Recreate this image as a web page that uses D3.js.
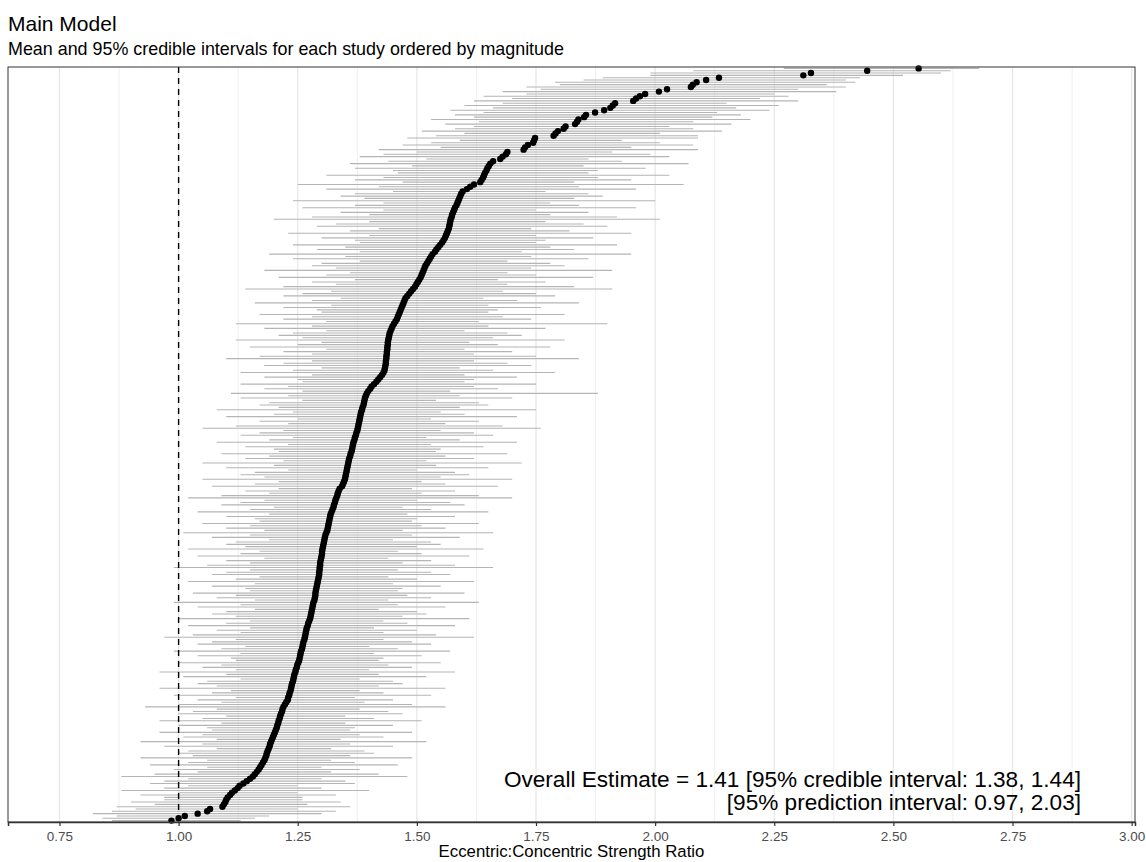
<!DOCTYPE html>
<html>
<head>
<meta charset="utf-8">
<title>Main Model</title>
<style>
  body { margin: 0; background: #fff; }
  svg { display: block; font-family: "Liberation Sans", Arial, sans-serif; }
</style>
</head>
<body>
<svg id="chart" width="1146" height="862"></svg>
<script src="https://cdn.jsdelivr.net/npm/d3@7"></script>
<script>
// study means, ordered from smallest (bottom) to largest (top)
var means = [0.985,1.000,1.013,1.040,1.060,1.066,1.092,1.095,1.098,1.100,
  1.103,1.108,1.112,1.118,1.124,1.128,1.136,1.143,1.150,1.156,
  1.160,1.164,1.168,1.171,1.174,1.177,1.180,1.182,1.184,1.185,
  1.187,1.189,1.191,1.192,1.194,1.196,1.198,1.200,1.202,1.204,
  1.206,1.207,1.209,1.210,1.212,1.213,1.215,1.217,1.218,1.220,
  1.223,1.226,1.229,1.230,1.232,1.233,1.235,1.236,1.237,1.238,
  1.240,1.241,1.242,1.243,1.245,1.246,1.248,1.249,1.251,1.253,
  1.254,1.255,1.256,1.257,1.259,1.260,1.261,1.262,1.264,1.265,
  1.266,1.267,1.268,1.269,1.271,1.272,1.274,1.276,1.277,1.278,
  1.279,1.280,1.281,1.282,1.283,1.285,1.286,1.287,1.287,1.288,
  1.289,1.290,1.291,1.292,1.293,1.294,1.295,1.295,1.296,1.296,
  1.297,1.297,1.298,1.299,1.300,1.301,1.301,1.302,1.303,1.304,
  1.305,1.306,1.307,1.308,1.310,1.312,1.313,1.314,1.315,1.316,
  1.317,1.318,1.319,1.321,1.323,1.325,1.326,1.328,1.329,1.331,
  1.333,1.334,1.336,1.338,1.343,1.345,1.347,1.349,1.350,1.351,
  1.352,1.353,1.354,1.355,1.356,1.357,1.358,1.360,1.361,1.363,
  1.364,1.365,1.366,1.367,1.369,1.370,1.372,1.373,1.375,1.376,
  1.377,1.378,1.379,1.380,1.381,1.382,1.383,1.385,1.386,1.388,
  1.389,1.390,1.391,1.393,1.395,1.398,1.402,1.405,1.410,1.415,
  1.419,1.423,1.427,1.430,1.432,1.433,1.434,1.435,1.435,1.436,
  1.436,1.437,1.437,1.438,1.438,1.439,1.439,1.440,1.441,1.442,
  1.443,1.445,1.447,1.449,1.452,1.455,1.458,1.460,1.462,1.464,
  1.466,1.468,1.470,1.472,1.474,1.476,1.480,1.484,1.488,1.492,
  1.496,1.499,1.502,1.505,1.508,1.510,1.512,1.514,1.516,1.518,
  1.521,1.524,1.527,1.530,1.533,1.538,1.541,1.545,1.549,1.553,
  1.556,1.559,1.561,1.563,1.565,1.567,1.568,1.569,1.570,1.571,
  1.573,1.574,1.576,1.578,1.580,1.583,1.585,1.587,1.589,1.591,
  1.593,1.596,1.605,1.612,1.620,1.633,1.636,1.639,1.641,1.643,
  1.646,1.648,1.651,1.654,1.660,1.675,1.680,1.687,1.690,1.724,
  1.727,1.733,1.744,1.746,1.748,1.787,1.791,1.796,1.808,1.812,
  1.832,1.836,1.839,1.851,1.855,1.874,1.893,1.906,1.911,1.916,
  1.954,1.960,1.968,1.979,2.008,2.025,2.075,2.079,2.087,2.107,
  2.134,2.311,2.327,2.445,2.553];

// lower 95% credible limits
var lower = [0.86,0.84,0.87,0.82,0.86,0.91,0.87,0.95,0.90,0.97,
  0.97,0.92,1.00,0.88,0.97,1.02,0.94,0.97,1.02,0.88,
  0.95,1.04,0.99,1.06,0.94,1.02,1.06,0.92,1.03,1.00,
  1.02,1.08,0.97,1.05,0.92,1.08,1.01,1.05,0.96,1.07,
  1.06,1.00,1.09,0.96,1.05,1.10,1.00,1.03,1.08,0.93,
  1.00,1.09,1.04,1.12,0.99,1.07,1.11,0.96,1.08,1.04,
  1.06,1.13,1.01,1.10,0.96,1.12,1.05,1.09,1.00,1.12,
  1.11,1.04,1.13,0.99,1.09,1.14,1.04,1.07,1.12,0.97,
  1.03,1.13,1.08,1.15,1.02,1.10,1.15,1.00,1.12,1.07,
  1.10,1.16,1.04,1.13,0.99,1.16,1.08,1.12,1.03,1.15,
  1.14,1.07,1.16,1.02,1.12,1.17,1.07,1.10,1.15,0.99,
  1.06,1.15,1.10,1.18,1.04,1.13,1.17,1.02,1.14,1.10,
  1.12,1.19,1.07,1.15,1.01,1.18,1.10,1.15,1.05,1.17,
  1.16,1.10,1.19,1.04,1.15,1.20,1.09,1.13,1.18,1.02,
  1.09,1.19,1.14,1.21,1.07,1.16,1.21,1.05,1.18,1.13,
  1.16,1.23,1.10,1.20,1.05,1.22,1.14,1.19,1.09,1.21,
  1.20,1.14,1.23,1.08,1.19,1.24,1.13,1.17,1.22,1.05,
  1.12,1.23,1.17,1.25,1.10,1.20,1.24,1.08,1.21,1.17,
  1.19,1.26,1.13,1.23,1.11,1.26,1.18,1.23,1.13,1.26,
  1.25,1.18,1.28,1.13,1.24,1.30,1.18,1.22,1.28,1.10,
  1.17,1.28,1.22,1.31,1.15,1.25,1.30,1.12,1.26,1.21,
  1.24,1.31,1.18,1.28,1.12,1.31,1.22,1.28,1.17,1.30,
  1.29,1.22,1.32,1.16,1.28,1.34,1.22,1.26,1.32,1.14,
  1.22,1.33,1.28,1.37,1.21,1.31,1.36,1.18,1.33,1.28,
  1.30,1.38,1.24,1.35,1.19,1.38,1.29,1.35,1.24,1.38,
  1.37,1.30,1.40,1.23,1.36,1.42,1.29,1.33,1.40,1.20,
  1.28,1.40,1.34,1.43,1.26,1.37,1.43,1.24,1.39,1.34,
  1.37,1.45,1.31,1.42,1.25,1.47,1.37,1.43,1.31,1.46,
  1.45,1.37,1.49,1.36,1.44,1.52,1.38,1.43,1.50,1.42,
  1.55,1.47,1.53,1.59,1.48,1.54,1.60,1.51,1.58,1.62,
  1.56,1.63,1.53,1.62,1.58,1.64,1.57,1.66,1.60,1.68,
  1.62,1.70,1.64,1.73,1.68,1.76,1.73,1.80,1.79,1.85,
  1.89,1.99,1.99,2.08,2.27];

// upper 95% credible limits
var upper = [1.13,1.16,1.19,1.30,1.33,1.25,1.36,1.27,1.34,1.26,
  1.26,1.33,1.25,1.40,1.30,1.25,1.37,1.35,1.30,1.48,
  1.42,1.32,1.38,1.30,1.46,1.37,1.32,1.49,1.36,1.41,
  1.39,1.32,1.45,1.36,1.52,1.34,1.43,1.38,1.49,1.36,
  1.37,1.45,1.35,1.51,1.41,1.35,1.47,1.44,1.38,1.56,
  1.49,1.39,1.45,1.37,1.53,1.43,1.38,1.56,1.42,1.47,
  1.45,1.38,1.52,1.42,1.58,1.40,1.49,1.44,1.55,1.42,
  1.43,1.51,1.41,1.57,1.46,1.40,1.53,1.49,1.43,1.62,
  1.54,1.43,1.50,1.41,1.58,1.48,1.43,1.61,1.47,1.52,
  1.50,1.42,1.56,1.46,1.63,1.44,1.53,1.48,1.60,1.46,
  1.47,1.55,1.45,1.62,1.50,1.44,1.57,1.53,1.46,1.66,
  1.58,1.47,1.53,1.44,1.61,1.51,1.46,1.64,1.50,1.55,
  1.53,1.45,1.59,1.49,1.66,1.47,1.56,1.51,1.63,1.49,
  1.50,1.58,1.48,1.65,1.53,1.47,1.60,1.57,1.50,1.70,
  1.63,1.51,1.58,1.49,1.67,1.56,1.51,1.70,1.55,1.61,
  1.58,1.50,1.65,1.54,1.72,1.52,1.62,1.56,1.69,1.54,
  1.55,1.64,1.53,1.71,1.59,1.52,1.66,1.62,1.55,1.76,
  1.68,1.56,1.63,1.53,1.71,1.60,1.55,1.75,1.59,1.65,
  1.63,1.54,1.70,1.59,1.88,1.57,1.67,1.62,1.75,1.60,
  1.62,1.71,1.60,1.79,1.66,1.59,1.74,1.69,1.62,1.84,
  1.75,1.62,1.70,1.60,1.78,1.67,1.61,1.81,1.66,1.72,
  1.69,1.60,1.77,1.65,1.90,1.63,1.74,1.68,1.81,1.65,
  1.67,1.76,1.65,1.84,1.71,1.64,1.79,1.75,1.68,1.91,
  1.83,1.69,1.77,1.67,1.87,1.75,1.69,1.91,1.74,1.81,
  1.78,1.69,1.86,1.74,1.95,1.72,1.83,1.78,1.92,1.75,
  1.77,1.87,1.75,1.95,1.82,1.74,1.90,1.85,1.77,2.01,
  1.92,1.78,1.86,1.75,1.96,1.84,1.78,2.00,1.83,1.89,
  1.86,1.77,1.96,1.84,2.06,1.83,1.95,1.88,2.03,1.86,
  1.88,1.98,1.85,2.07,1.93,1.86,2.03,1.99,1.91,2.09,
  1.95,2.08,2.01,1.93,2.09,2.09,2.01,2.14,2.08,2.03,
  2.16,2.08,2.20,2.12,2.18,2.13,2.24,2.17,2.26,2.15,
  2.30,2.22,2.28,2.25,2.38,2.30,2.40,2.36,2.42,2.40,
  2.43,2.52,2.60,2.62,2.68];

var xTicks = [0.75, 1.00, 1.25, 1.50, 1.75, 2.00, 2.25, 2.50, 2.75, 3.00];
var xMinor = [0.875, 1.125, 1.375, 1.625, 1.875, 2.125, 2.375, 2.625, 2.875];
var refLine = 1.00;
var labelLines = [
  "Overall Estimate = 1.41 [95% credible interval: 1.38, 1.44]",
  "[95% prediction interval: 0.97, 2.03]"
];

function draw() {
  var studies = means.map(function (m, i) {
    return { row: i + 1, mean: m, lo: lower[i], hi: upper[i] };
  });

  var svg = d3.select('#chart');
  var pLeft = 8, pRight = 1135, pTop = 67, pBottom = 822;

  var x = d3.scaleLinear().domain([0.642, 3.007]).range([pLeft, pRight]);
  var y = d3.scaleLinear().domain([0.4, studies.length + 0.6]).range([pBottom, pTop]);

  // titles
  svg.append('text').attr('x', 8).attr('y', 31)
    .style('font-size', '21px').text('Main Model');
  svg.append('text').attr('x', 8).attr('y', 55)
    .style('font-size', '17.9px').text('Mean and 95% credible intervals for each study ordered by magnitude');

  // grid
  svg.append('g').selectAll('line').data(xMinor).enter().append('line')
    .attr('x1', x).attr('x2', x).attr('y1', pTop).attr('y2', pBottom)
    .style('stroke', '#ebebeb').style('stroke-width', 0.8);
  svg.append('g').selectAll('line').data(xTicks).enter().append('line')
    .attr('x1', x).attr('x2', x).attr('y1', pTop).attr('y2', pBottom)
    .style('stroke', '#e6e6e6').style('stroke-width', 1.2);

  // intervals
  svg.append('g').selectAll('line').data(studies).enter().append('line')
    .attr('x1', function (d) { return x(d.lo); })
    .attr('x2', function (d) { return x(d.hi); })
    .attr('y1', function (d) { return y(d.row); })
    .attr('y2', function (d) { return y(d.row); })
    .style('stroke', '#b5b5b5').style('stroke-width', 1.1);

  // reference line at 1
  svg.append('line')
    .attr('x1', x(refLine)).attr('x2', x(refLine)).attr('y1', pTop).attr('y2', pBottom)
    .style('stroke', '#000').style('stroke-width', 1.4).style('stroke-dasharray', '6,5');

  // means
  svg.append('g').selectAll('circle').data(studies).enter().append('circle')
    .attr('cx', function (d) { return x(d.mean); })
    .attr('cy', function (d) { return y(d.row); })
    .attr('r', 3.2)
    .style('fill', '#000');

  // annotation
  svg.append('g').selectAll('text').data(labelLines).enter().append('text')
    .attr('x', 1081).attr('y', function (d, i) { return 787 + i * 23; })
    .attr('text-anchor', 'end')
    .style('font-size', '22.6px')
    .text(function (d) { return d; });

  // panel border
  svg.append('rect').attr('x', pLeft).attr('y', pTop)
    .attr('width', pRight - pLeft).attr('height', pBottom - pTop)
    .style('fill', 'none').style('stroke', '#333').style('stroke-width', 1);

  // x axis
  var xAxis = svg.append('g').attr('transform', 'translate(0,' + pBottom + ')')
    .call(d3.axisBottom(x).tickValues(xTicks).tickSize(4).tickPadding(5)
      .tickFormat(d3.format('.2f')));
  xAxis.select('.domain').style('stroke', '#333').style('stroke-width', 1.5);
  xAxis.selectAll('.tick line').style('stroke', '#333').style('stroke-width', 1.2);
  xAxis.selectAll('.tick text')
    .style('font-size', '13.5px')
    .style('font-family', '"Liberation Sans", Arial, sans-serif')
    .style('fill', '#4d4d4d');

  svg.append('text').attr('x', (pLeft + pRight) / 2).attr('y', 857)
    .attr('text-anchor', 'middle').style('font-size', '16.8px')
    .text('Eccentric:Concentric Strength Ratio');
}

draw();
</script>
</body>
</html>
